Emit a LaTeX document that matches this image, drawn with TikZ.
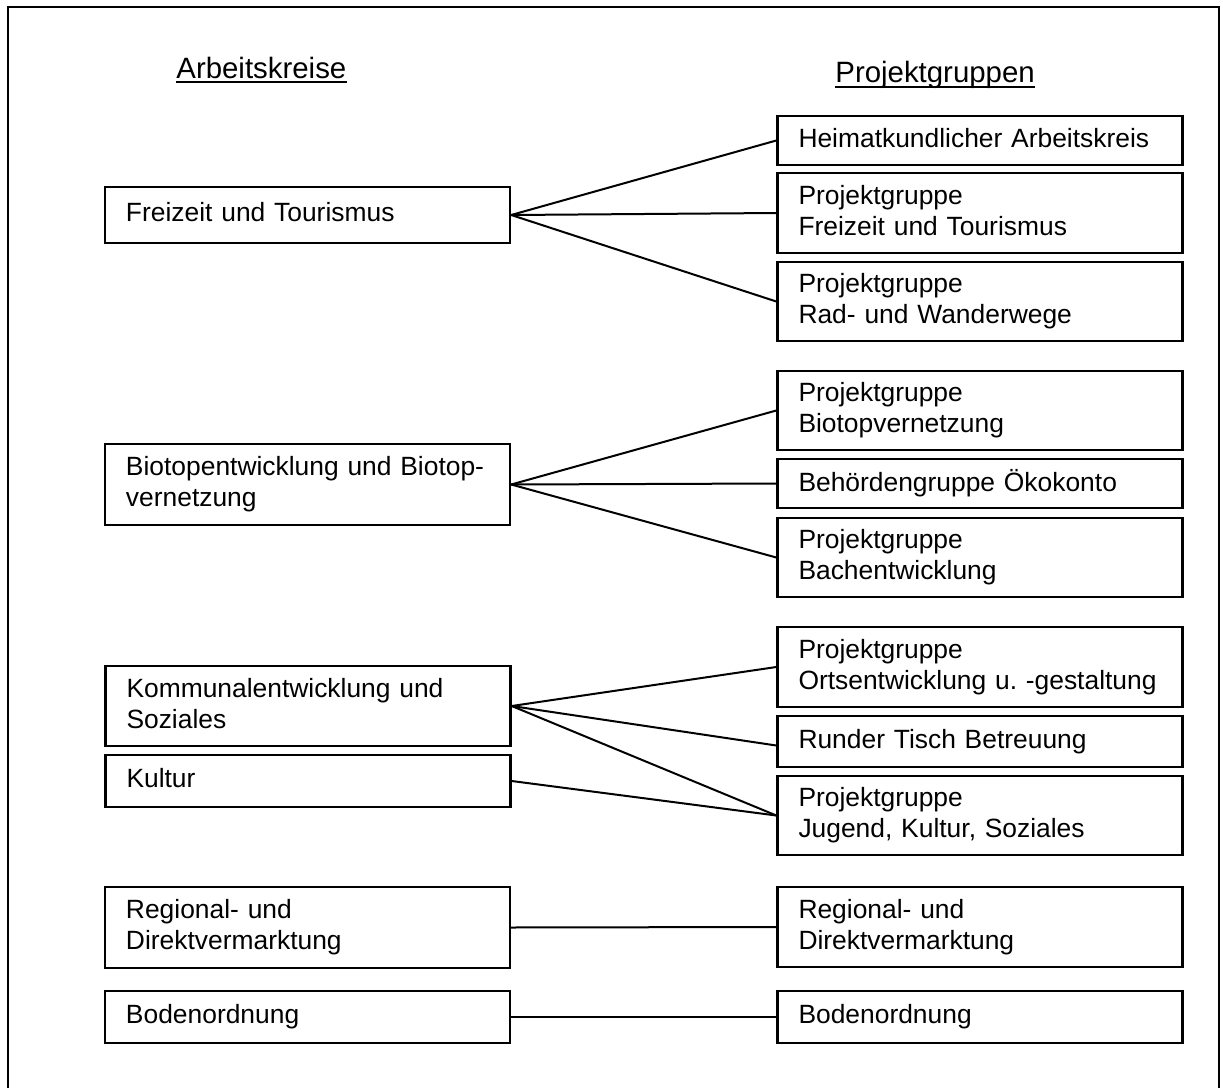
\documentclass[tikz,border=0pt]{standalone}
\usepackage{fontspec}
\setmainfont{Liberation Sans}
% strut giving every box line the same height and depth
\newcommand\boxstrut{\rule[-2.7pt]{0pt}{12.3pt}}
\begin{document}
\begin{tikzpicture}[x=0.5pt, y=-0.5pt,
  frame/.style={line width=1pt},
  link/.style={line width=1pt},
  heading/.style={anchor=base west, inner sep=0pt, font=\fontsize{14.7}{17}\selectfont},
  group/.style={draw, line width=1.2pt, rectangle, text width=181.5pt,
    inner xsep=10.5pt, inner ysep=0pt, align=left,
    font=\fontsize{13.2}{15.5}\selectfont,
    execute at begin node=\boxstrut, execute at end node=\boxstrut},
  ]
\fill[white] (0,0) rectangle (1223,1088);
\useasboundingbox (0,0) rectangle (1223,1088);

% outer frame
\draw[frame] (8,1088) -- (8,7) -- (1219,7) -- (1219,1088);

% column headings
\node[heading] (hak) at (176,78) {Arbeitskreise};
\draw[line width=1pt] ([yshift=-2.2pt]hak.base west) -- ([yshift=-2.2pt]hak.base east);
\node[heading] (hpg) at (835,82) {Projektgruppen};
\draw[line width=1pt] ([yshift=-2.4pt]hpg.base west) -- ([yshift=-2.4pt]hpg.base east);

% Arbeitskreise
\node[group, minimum height=28pt]   (ak1) at (307.5,215)   {Freizeit und Tourismus};
\node[group, minimum height=40.5pt] (ak2) at (307.5,484.5) {Biotopentwicklung und Biotop-\\\boxstrut vernetzung};
\node[group, minimum height=40pt]   (ak3) at (308,706)     {Kommunalentwicklung und\\\boxstrut Soziales};
\node[group, minimum height=26pt]   (ak4) at (308,781)     {Kultur};
\node[group, minimum height=40.5pt] (ak5) at (307.5,927.5) {Regional- und\\\boxstrut Direktvermarktung};
\node[group, minimum height=26pt]   (ak6) at (307.5,1017)  {Bodenordnung};

% Projektgruppen
\node[group, minimum height=24.5pt] (pg1)  at (980,140.5) {Heimatkundlicher Arbeitskreis};
\node[group, minimum height=40pt]   (pg2)  at (980,213)   {Projektgruppe\\\boxstrut Freizeit und Tourismus};
\node[group, minimum height=39.5pt] (pg3)  at (980,301.5) {Projektgruppe\\\boxstrut Rad- und Wanderwege};
\node[group, minimum height=39.5pt] (pg4)  at (980,410.5) {Projektgruppe\\\boxstrut Biotopvernetzung};
\node[group, minimum height=24.5pt] (pg5)  at (980,483.5) {Behördengruppe Ökokonto};
\node[group, minimum height=39.5pt] (pg6)  at (980,557.5) {Projektgruppe\\\boxstrut Bachentwicklung};
\node[group, minimum height=40pt]   (pg7)  at (980,667)   {Projektgruppe\\\boxstrut Ortsentwicklung u.~-gestaltung};
\node[group, minimum height=25.5pt] (pg8)  at (980,741.5) {Runder Tisch Betreuung};
\node[group, minimum height=39.5pt] (pg9)  at (980,815.5) {Projektgruppe\\\boxstrut Jugend, Kultur, Soziales};
\node[group, minimum height=40pt]   (pg10) at (980,927)   {Regional- und\\\boxstrut Direktvermarktung};
\node[group, minimum height=26pt]   (pg11) at (980,1017)  {Bodenordnung};

% connections
\draw[link] (ak1.east) -- (pg1.west);
\draw[link] (ak1.east) -- (pg2.west);
\draw[link] (ak1.east) -- (pg3.west);
\draw[link] (ak2.east) -- (pg4.west);
\draw[link] (ak2.east) -- (pg5.west);
\draw[link] (ak2.east) -- (pg6.west);
\draw[link] (ak3.east) -- (pg7.west);
\draw[link] (ak3.east) -- ([yshift=-2pt]pg8.west);
\draw[link] (ak3.east) -- (pg9.west);
\draw[link] (ak4.east) -- (pg9.west);
\draw[link] (ak5.east) -- (pg10.west);
\draw[link] (ak6.east) -- (pg11.west);
\end{tikzpicture}
\end{document}
